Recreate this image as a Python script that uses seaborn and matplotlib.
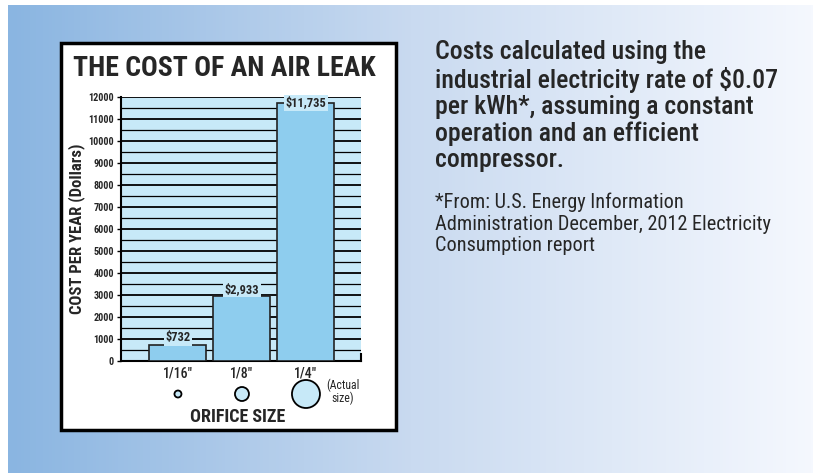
import numpy as np
import pandas as pd
import matplotlib
matplotlib.use("Agg")
import matplotlib.pyplot as plt
from matplotlib.colors import LinearSegmentedColormap
from matplotlib.patches import Rectangle
from matplotlib.ticker import MultipleLocator
import seaborn as sns

# data
orifice_labels = ['1/16"', '1/8"', '1/4"']
orifice_inches = [1 / 16, 1 / 8, 1 / 4]
annual_cost = [732, 2933, 11735]
cost_labels = ["$732", "$2,933", "$11,735"]

body_text = ("Costs calculated using the\n"
             "industrial electricity rate of $0.07\n"
             "per kWh*, assuming a constant\n"
             "operation and an efficient\n"
             "compressor.")
note_text = ("*From: U.S. Energy Information\n"
             "Administration December, 2012 Electricity\n"
             "Consumption report")

df = pd.DataFrame({"size": orifice_labels, "cost": annual_cost})

sns.set_style("white")
plt.rcParams["font.family"] = ["Roboto Condensed", "DejaVu Sans"]

W, H = 813, 473
fig = plt.figure(figsize=(W / 100, H / 100), dpi=100)
fig.patch.set_facecolor("white")

def fx(px):
    return px / W

def fy(py):
    return 1 - py / H

# gradient background
bg = fig.add_axes([fx(8), 0, fx(W - 8), 1 - 5 / H], zorder=-10)
grad = LinearSegmentedColormap.from_list("bg", ["#8ab5e1", "#c9daf0", "#f5f8fe"])
bg.imshow(np.linspace(0, 1, 256)[None, :], aspect="auto", cmap=grad, extent=[0, 1, 0, 1])
bg.set_axis_off()

# white card
fig.patches.append(Rectangle((fx(61), fy(430)), fx(396 - 61), (430 - 43) / H,
                             transform=fig.transFigure, facecolor="white",
                             edgecolor="black", linewidth=2.5, zorder=-5))

bar_color = "#8ecdee"
panel_color = "#c7e9f8"

ax = fig.add_axes([fx(121), fy(361), fx(240), 264 / H])
ax.set_facecolor(panel_color)
sns.barplot(data=df, x="size", y="cost", color=bar_color, saturation=1,
            edgecolor="#222222", linewidth=1.2, width=0.89, ax=ax, zorder=3)
ax.set_xlim(-0.89, 2.86)
ax.set_ylim(0, 12000)
ax.yaxis.set_major_locator(MultipleLocator(1000))
ax.yaxis.set_minor_locator(MultipleLocator(500))
ax.grid(which="major", axis="y", color="black", linewidth=1.3, zorder=0)
ax.grid(which="minor", axis="y", color="black", linewidth=0.9, zorder=0)
ax.set_axisbelow(True)
ax.set_xlabel("")
ax.set_ylabel("")
ax.spines["top"].set_visible(False)
for side in ["left", "bottom", "right"]:
    ax.spines[side].set_color("black")
    ax.spines[side].set_linewidth(1.5)
ax.spines["right"].set_bounds(0, 300)

ax.tick_params(axis="y", which="major", left=True, length=3, width=1, pad=2,
               labelsize=7.3, color="black")
ax.tick_params(axis="y", which="minor", left=False)
for t in ax.get_yticklabels():
    t.set_fontweight("bold")
ax.tick_params(axis="x", length=0, pad=4, labelsize=10)
for t in ax.get_xticklabels():
    t.set_fontweight("medium")

# value labels above bars
label_pad = [7, 7, 0]
for i, (val, txt) in enumerate(zip(annual_cost, cost_labels)):
    ax.annotate(txt, (i, val), xytext=(0, label_pad[i]), textcoords="offset pixels",
                ha="center", va="center", fontsize=9, fontweight="bold", zorder=5,
                bbox=dict(boxstyle="square,pad=0.1", facecolor=panel_color,
                          edgecolor="none"))

# actual-size orifice circles (112 px per inch)
diam_pt = [d * 112 * 0.72 for d in orifice_inches]
ax.scatter(range(len(orifice_inches)), [-0.125] * 3, s=[d ** 2 for d in diam_pt],
           transform=ax.get_xaxis_transform(), facecolor=panel_color,
           edgecolor="black", linewidth=1.3, clip_on=False, zorder=5)
fig.text(fx(343), fy(392), "(Actual\nsize)", ha="center", va="center",
         fontsize=8.5, linespacing=1.0)

fig.text(fx(238), fy(417), "ORIFICE SIZE", ha="center", va="center",
         fontsize=13, fontweight="heavy")
fig.text(fx(224), fy(68), "THE COST OF AN AIR LEAK", ha="center", va="center",
         fontsize=20, fontweight="heavy")
fig.text(fx(77), fy(229), "COST PER YEAR (Dollars)", ha="center", va="center",
         rotation=90, fontsize=12, fontweight="heavy")

fig.text(fx(435), fy(40), body_text, ha="left", va="top", fontsize=18.5,
         fontweight="medium", linespacing=1.12)
fig.text(fx(435), fy(193), note_text, ha="left", va="top", fontsize=14.6,
         linespacing=1.16)

fig.savefig("out.png", dpi=100)
